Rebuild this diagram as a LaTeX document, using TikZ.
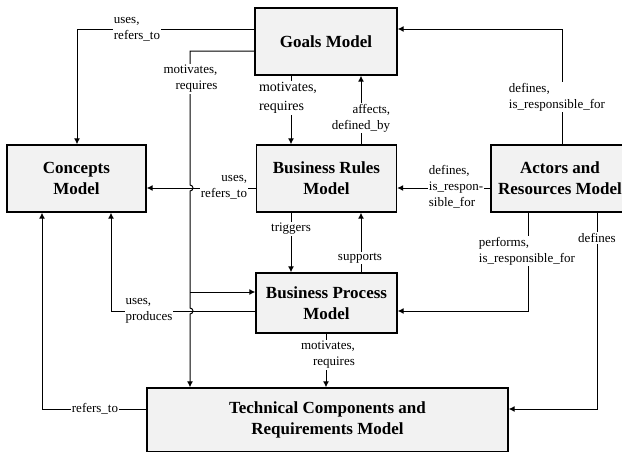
\documentclass[tikz,border=0pt]{standalone}
\usepackage{fontspec}
\setmainfont{Liberation Serif}
\usetikzlibrary{arrows.meta}

\begin{document}
\begin{tikzpicture}[x=1pt,y=-1pt,
  model/.style={draw,line width=1.4pt,fill=black!5,align=center,inner sep=0pt,
    font=\bfseries\fontsize{17}{21}\selectfont},
  link/.style={line width=1pt,-{Latex[length=6pt,width=6pt]}},
  tag/.style={fill=white,inner sep=1pt,font=\fontsize{13}{16}\selectfont}]
\useasboundingbox (0,0) rectangle (622,451);
%models
\node[model,minimum width=142pt,minimum height=67pt] (goals) at (326,41.5) {Goals Model};
\node[model,minimum width=139pt,minimum height=67pt] (concepts) at (76.5,178.5) {Concepts\\Model};
\node[model,minimum width=140pt,minimum height=67pt] (rules) at (326.5,178.5) {Business Rules\\Model};
\node[model,minimum width=138pt,minimum height=67pt] (actors) at (560,178.5) {Actors and\\Resources Model};
\node[model,minimum width=141pt,minimum height=60pt] (process) at (326.5,303) {Business Process\\Model};
\node[model,minimum width=361pt,minimum height=64pt] (tech) at (327.5,420) {Technical Components and\\Requirements Model};
%links from goals
\draw[link] (goals.west |- 0,29) -| (77,0 |- concepts.north);
\draw[link] (goals.west |- 0,51) -| (190,185) arc[start angle=90,end angle=-90,radius=3pt]
  -- (190,308) arc[start angle=90,end angle=-90,radius=3pt] -- (190,0 |- tech.north);
\coordinate (split) at (190,292);
\draw[link] (split) -- (split -| process.west);
\draw[link] (291,0 |- goals.south) -- (291,0 |- rules.north);
%links from rules
\draw[link] (361,0 |- rules.north) -- (361,0 |- goals.south);
\draw[link] (rules.west |- 0,188) -- (concepts.east |- 0,188);
\draw[link] (291,0 |- rules.south) -- (291,0 |- process.north);
%links from process
\draw[link] (361,0 |- process.north) -- (361,0 |- rules.south);
\draw[link] (process.west |- 0,311) -| (111,0 |- concepts.south);
\draw[link] (326,0 |- process.south) -- (326,0 |- tech.north);
%links from actors
\draw[link] (562,0 |- actors.north) |- (goals.east |- 0,29);
\draw[link] (actors.west |- 0,188) -- (rules.east |- 0,188);
\draw[link] (528,0 |- actors.south) |- (process.east |- 0,311);
\draw[link] (597,0 |- actors.south) |- (tech.east |- 0,409);
%links from tech
\draw[link] (tech.west |- 0,409) -| (42,0 |- concepts.south);
%labels
\node[tag,align=left] (t1) at (137,29.5) {uses,\\refers\_to};
\node[tag,align=right] (t2) at (190.5,79) {motivates,\\requires};
\node[tag,align=left,font=\fontsize{14}{19}\selectfont] (t3) at (288,98) {motivates,\\requires};
\node[tag,align=right] (t4) at (361,118) {affects,\\defined\_by};
\node[tag,align=right] (t5) at (224,187) {uses,\\refers\_to};
\node[tag,align=left] (t6) at (456,187) {defines,\\is\_respon-\\sible\_for};
\node[tag,align=left] (t7) at (557,97) {defines,\\is\_responsible\_for};
\node[tag] (t8) at (291,229) {triggers};
\node[tag] (t9) at (360,258) {supports};
\node[tag,align=left] (t10) at (527,251) {performs,\\is\_responsible\_for};
\node[tag] (t11) at (597,238) {defines};
\node[tag,align=left] (t12) at (149,311) {uses,\\produces};
\node[tag,align=right] (t13) at (328,355) {motivates,\\requires};
\node[tag] (t14) at (95,409) {refers\_to};
\end{tikzpicture}
\end{document}
